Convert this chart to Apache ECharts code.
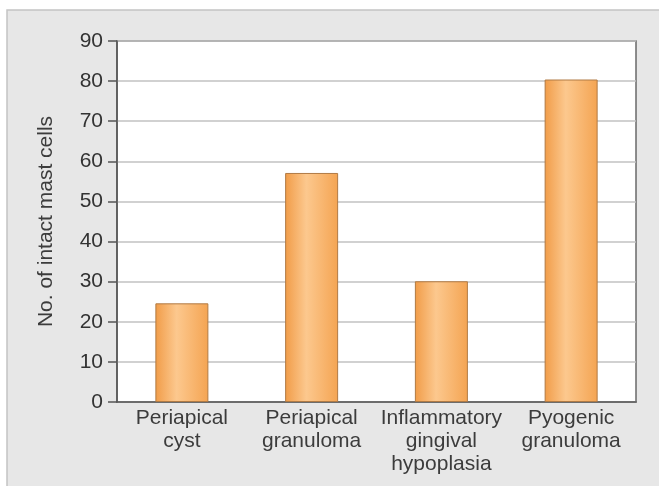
<!DOCTYPE html>
<html>
<head>
<meta charset="utf-8">
<script src="https://cdn.jsdelivr.net/npm/echarts@6/dist/echarts.min.js"></script>
<style>
html,body{margin:0;padding:0;background:#fff;}
#chart{width:659px;height:486px;}
</style>
</head>
<body>
<div id="chart"></div>
<script>
const categories = ["Periapical\ncyst", "Periapical\ngranuloma", "Inflammatory\ngingival\nhypoplasia", "Pyogenic\ngranuloma"];
const mastCells = [24.6, 57.1, 30.1, 80.4];
const yTicks = { min: 0, max: 90, interval: 10 };
const yAxisTitle = "No. of intact mast cells";

const chart = echarts.init(document.getElementById('chart'), null, {renderer: 'canvas'});
const font = '"Liberation Sans", Arial, sans-serif';
const barGradient = new echarts.graphic.LinearGradient(0, 0, 1, 0, [
  {offset: 0, color: '#f19c48'},
  {offset: 0.4, color: '#fcc88e'},
  {offset: 1, color: '#f4a452'}
]);
chart.setOption({
  backgroundColor: '#ffffff',
  animation: false,
  graphic: [{
    type: 'rect',
    z: -10,
    shape: {x: 7, y: 10, width: 660, height: 480},
    style: {fill: '#e7e7e7', stroke: '#c4c4c4', lineWidth: 1.5}
  }],
  grid: {
    left: 117, right: 23, top: 41, bottom: 84,
    show: true, backgroundColor: '#ffffff', borderColor: '#6a6a6a', borderWidth: 1.5
  },
  xAxis: {
    type: 'category',
    data: categories,
    axisLine: {lineStyle: {color: '#555', width: 1.5}},
    axisTick: {show: false},
    axisLabel: {color: '#3c3c3c', fontSize: 21, fontFamily: font, lineHeight: 23, margin: 5, interval: 0}
  },
  yAxis: {
    type: 'value',
    min: yTicks.min, max: yTicks.max, interval: yTicks.interval,
    name: yAxisTitle,
    nameLocation: 'middle',
    nameGap: 60,
    nameTextStyle: {color: '#3c3c3c', fontSize: 21, fontFamily: font},
    axisLine: {show: true, lineStyle: {color: '#555', width: 1.5}},
    axisTick: {show: true, length: 9, lineStyle: {color: '#555', width: 1.5}},
    axisLabel: {color: '#333', fontSize: 21, fontFamily: font, margin: 14},
    splitLine: {lineStyle: {color: '#c2c2c2', width: 1.5}}
  },
  series: [{
    type: 'bar',
    data: mastCells,
    barWidth: 53,
    itemStyle: {color: barGradient, borderColor: '#b07a44', borderWidth: 1}
  }]
});
</script>
</body>
</html>
